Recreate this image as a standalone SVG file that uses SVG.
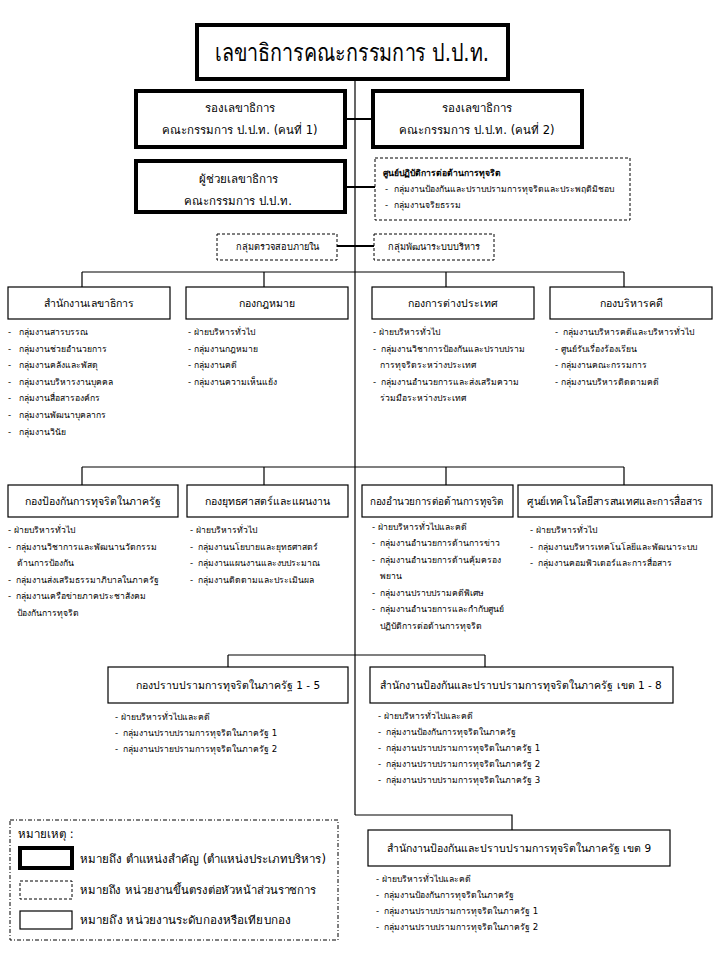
<svg xmlns="http://www.w3.org/2000/svg" width="720" height="960" viewBox="0 0 720 960">
<style>
text{font-family:"DejaVu Sans","Liberation Sans","Noto Sans",sans-serif;fill:#000}
.box{fill:#fff;stroke:#000;stroke-width:1.2}
.thick{fill:#fff;stroke:#000;stroke-width:4}
.dash{fill:#fff;stroke:#000;stroke-width:1;stroke-dasharray:3,2}
.ln{stroke:#000;stroke-width:1.2;fill:none}
.ln2{stroke:#000;stroke-width:2;fill:none}
.t{font-size:10.5px;text-anchor:middle}
.tb{font-size:11.5px;text-anchor:middle}
.i{font-size:8.6px}
.s{font-size:9.2px;text-anchor:middle}
.title{font-size:24px;text-anchor:middle}
.lg{font-size:11.5px}
</style>
<rect width="720" height="960" fill="#fff"/>
<g id="connectors">
<path class="ln" d="M355 80V815"/>
<path class="ln2" d="M345 119H372M345 187H375M337 246H374"/>
<path class="ln" d="M82 272H624M82 272V287M264 272V287M446 272V287M624 272V287"/>
<path class="ln" d="M82 467H624M82 467V485M264 467V485M446 467V485M624 467V485"/>
<path class="ln" d="M228 655H485M228 655V667M485 655V667"/>
<path class="ln" d="M355 815H512V830"/>
</g>
<g id="secgen">
<rect class="thick" x="197" y="25" width="311" height="54"/>
<text class="title" x="352" y="61" textLength="274" lengthAdjust="spacingAndGlyphs">เลขาธิการคณะกรรมการ ป.ป.ท.</text>
</g>
<g id="deputy1">
<rect class="thick" x="136" y="91" width="209" height="56"/>
<text class="tb" x="240" y="112">รองเลขาธิการ</text>
<text class="tb" x="240" y="134">คณะกรรมการ ป.ป.ท. (คนที่ 1)</text>
</g>
<g id="deputy2">
<rect class="thick" x="373" y="91" width="209" height="56"/>
<text class="tb" x="477" y="112">รองเลขาธิการ</text>
<text class="tb" x="477" y="134">คณะกรรมการ ป.ป.ท. (คนที่ 2)</text>
</g>
<g id="assistant">
<rect class="thick" x="136" y="161" width="209" height="51"/>
<text class="tb" x="238" y="183">ผู้ช่วยเลขาธิการ</text>
<text class="tb" x="238" y="205">คณะกรรมการ ป.ป.ท.</text>
</g>
<g id="anticorruption-center">
<rect class="dash" x="375" y="158" width="255" height="62"/>
<text class="i" x="383" y="176" font-weight="bold">ศูนย์ปฏิบัติการต่อต้านการทุจริต</text>
<text class="i" x="385" y="192">-<tspan dx="6">กลุ่มงานป้องกันและปราบปรามการทุจริตและประพฤติมิชอบ</tspan></text>
<text class="i" x="385" y="208">-<tspan dx="6">กลุ่มงานจริยธรรม</tspan></text>
</g>
<g id="internal-audit">
<rect class="dash" x="217" y="234" width="120" height="26"/>
<text class="s" x="277" y="250">กลุ่มตรวจสอบภายใน</text>
</g>
<g id="admin-dev">
<rect class="dash" x="374" y="234" width="120" height="26"/>
<text class="s" x="434" y="250">กลุ่มพัฒนาระบบบริหาร</text>
</g>
<g id="office-secgen">
<rect class="box" x="8" y="287" width="162" height="32"/>
<text class="t" x="89" y="307">สำนักงานเลขาธิการ</text>
<text class="i" x="8" y="335">-<tspan dx="8">กลุ่มงานสารบรรณ</tspan></text>
<text class="i" x="8" y="352">-<tspan dx="8">กลุ่มงานช่วยอำนวยการ</tspan></text>
<text class="i" x="8" y="368">-<tspan dx="8">กลุ่มงานคลังและพัสดุ</tspan></text>
<text class="i" x="8" y="385">-<tspan dx="8">กลุ่มงานบริหารงานบุคคล</tspan></text>
<text class="i" x="8" y="401">-<tspan dx="8">กลุ่มงานสื่อสารองค์กร</tspan></text>
<text class="i" x="8" y="418">-<tspan dx="8">กลุ่มงานพัฒนาบุคลากร</tspan></text>
<text class="i" x="8" y="435">-<tspan dx="8">กลุ่มงานวินัย</tspan></text>
</g>
<g id="legal">
<rect class="box" x="186" y="287" width="162" height="32"/>
<text class="t" x="267" y="307">กองกฎหมาย</text>
<text class="i" x="188" y="335">- ฝ่ายบริหารทั่วไป</text>
<text class="i" x="188" y="352">- กลุ่มงานกฎหมาย</text>
<text class="i" x="188" y="368">- กลุ่มงานคดี</text>
<text class="i" x="188" y="385">- กลุ่มงานความเห็นแย้ง</text>
</g>
<g id="foreign">
<rect class="box" x="372" y="287" width="162" height="32"/>
<text class="t" x="453" y="307">กองการต่างประเทศ</text>
<text class="i" x="373" y="335">- ฝ่ายบริหารทั่วไป</text>
<text class="i" x="373" y="352">-<tspan dx="5">กลุ่มงานวิชาการป้องกันและปราบปราม</tspan></text>
<text class="i" x="380" y="368">การทุจริตระหว่างประเทศ</text>
<text class="i" x="373" y="385">-<tspan dx="5">กลุ่มงานอำนวยการและส่งเสริมความ</tspan></text>
<text class="i" x="380" y="401">ร่วมมือระหว่างประเทศ</text>
</g>
<g id="case-admin">
<rect class="box" x="550" y="287" width="162" height="32"/>
<text class="t" x="631" y="307">กองบริหารคดี</text>
<text class="i" x="555" y="335">-<tspan dx="5">กลุ่มงานบริหารคดีและบริหารทั่วไป</tspan></text>
<text class="i" x="555" y="352">- ศูนย์รับเรื่องร้องเรียน</text>
<text class="i" x="555" y="368">- กลุ่มงานคณะกรรมการ</text>
<text class="i" x="555" y="385">- กลุ่มงานบริหารติดตามคดี</text>
</g>
<g id="prevention">
<rect class="box" x="8" y="485" width="170" height="32"/>
<text class="t" x="93" y="505">กองป้องกันการทุจริตในภาครัฐ</text>
<text class="i" x="8" y="533">- ฝ่ายบริหารทั่วไป</text>
<text class="i" x="8" y="550">-<tspan dx="5">กลุ่มงานวิชาการและพัฒนานวัตกรรม</tspan></text>
<text class="i" x="17" y="566">ด้านการป้องกัน</text>
<text class="i" x="8" y="583">-<tspan dx="5">กลุ่มงานส่งเสริมธรรมาภิบาลในภาครัฐ</tspan></text>
<text class="i" x="8" y="599">-<tspan dx="5">กลุ่มงานเครือข่ายภาคประชาสังคม</tspan></text>
<text class="i" x="17" y="616">ป้องกันการทุจริต</text>
</g>
<g id="strategy">
<rect class="box" x="187" y="485" width="161" height="32"/>
<text class="t" x="267" y="505">กองยุทธศาสตร์และแผนงาน</text>
<text class="i" x="190" y="533">- ฝ่ายบริหารทั่วไป</text>
<text class="i" x="190" y="550">-<tspan dx="5">กลุ่มงานนโยบายและยุทธศาสตร์</tspan></text>
<text class="i" x="190" y="566">-<tspan dx="5">กลุ่มงานแผนงานและงบประมาณ</tspan></text>
<text class="i" x="190" y="583">-<tspan dx="5">กลุ่มงานติดตามและประเมินผล</tspan></text>
</g>
<g id="anticorruption-directorate">
<rect class="box" x="362" y="485" width="151" height="32"/>
<text class="t" x="437" y="505" textLength="134" lengthAdjust="spacingAndGlyphs">กองอำนวยการต่อต้านการทุจริต</text>
<text class="i" x="372" y="530">- ฝ่ายบริหารทั่วไปและคดี</text>
<text class="i" x="372" y="546">-<tspan dx="5">กลุ่มงานอำนวยการด้านการข่าว</tspan></text>
<text class="i" x="372" y="563">-<tspan dx="5">กลุ่มงานอำนวยการด้านคุ้มครอง</tspan></text>
<text class="i" x="380" y="579">พยาน</text>
<text class="i" x="372" y="596">-<tspan dx="5">กลุ่มงานปราบปรามคดีพิเศษ</tspan></text>
<text class="i" x="372" y="612">-<tspan dx="5">กลุ่มงานอำนวยการและกำกับศูนย์</tspan></text>
<text class="i" x="380" y="629">ปฏิบัติการต่อต้านการทุจริต</text>
</g>
<g id="ict">
<rect class="box" x="518" y="485" width="194" height="32"/>
<text class="t" x="615" y="505" textLength="176" lengthAdjust="spacingAndGlyphs">ศูนย์เทคโนโลยีสารสนเทศและการสื่อสาร</text>
<text class="i" x="530" y="533">- ฝ่ายบริหารทั่วไป</text>
<text class="i" x="530" y="550">-<tspan dx="5">กลุ่มงานบริหารเทคโนโลยีและพัฒนาระบบ</tspan></text>
<text class="i" x="530" y="566">-<tspan dx="5">กลุ่มงานคอมพิวเตอร์และการสื่อสาร</tspan></text>
</g>
<g id="suppression">
<rect class="box" x="108" y="667" width="240" height="36"/>
<text class="t" x="228" y="689">กองปราบปรามการทุจริตในภาครัฐ  1 - 5</text>
<text class="i" x="115" y="720">- ฝ่ายบริหารทั่วไปและคดี</text>
<text class="i" x="115" y="736">-<tspan dx="5">กลุ่มงานปราบปรามการทุจริตในภาครัฐ 1</tspan></text>
<text class="i" x="115" y="752">-<tspan dx="5">กลุ่มงานปรายปรามการทุจริตในภาครัฐ 2</tspan></text>
</g>
<g id="regional-1-8">
<rect class="box" x="370" y="667" width="303" height="36"/>
<text class="t" x="521" y="689">สำนักงานป้องกันและปราบปรามการทุจริตในภาครัฐ  เขต 1 - 8</text>
<text class="i" x="378" y="719">- ฝ่ายบริหารทั่วไปและคดี</text>
<text class="i" x="378" y="735">-<tspan dx="5">กลุ่มงานป้องกันการทุจริตในภาครัฐ</tspan></text>
<text class="i" x="378" y="751">-<tspan dx="5">กลุ่มงานปราบปรามการทุจริตในภาครัฐ 1</tspan></text>
<text class="i" x="378" y="767">-<tspan dx="5">กลุ่มงานปราบปรามการทุจริตในภาครัฐ 2</tspan></text>
<text class="i" x="378" y="783">-<tspan dx="5">กลุ่มงานปราบปรามการทุจริตในภาครัฐ 3</tspan></text>
</g>
<g id="regional-9">
<rect class="box" x="368" y="830" width="302" height="36"/>
<text class="t" x="519" y="852">สำนักงานป้องกันและปราบปรามการทุจริตในภาครัฐ  เขต 9</text>
<text class="i" x="376" y="882">- ฝ่ายบริหารทั่วไปและคดี</text>
<text class="i" x="376" y="898">-<tspan dx="5">กลุ่มงานป้องกันการทุจริตในภาครัฐ</tspan></text>
<text class="i" x="376" y="914">-<tspan dx="5">กลุ่มงานปราบปรามการทุจริตในภาครัฐ 1</tspan></text>
<text class="i" x="376" y="930">-<tspan dx="5">กลุ่มงานปราบปรามการทุจริตในภาครัฐ 2</tspan></text>
</g>
<g id="legend">
<rect x="10" y="820" width="328" height="120" fill="none" stroke="#000" stroke-width="1" stroke-dasharray="4,2,1,2"/>
<text class="lg" x="18" y="838">หมายเหตุ :</text>
<rect x="20" y="848" width="52" height="20" fill="#fff" stroke="#000" stroke-width="4"/>
<text class="lg" x="80" y="863" textLength="246" lengthAdjust="spacingAndGlyphs">หมายถึง ตำแหน่งสำคัญ (ตำแหน่งประเภทบริหาร)</text>
<rect class="dash" x="20" y="881" width="52" height="18"/>
<text class="lg" x="80" y="894" textLength="236" lengthAdjust="spacingAndGlyphs">หมายถึง หน่วยงานขึ้นตรงต่อหัวหน้าส่วนราชการ</text>
<rect class="box" x="20" y="911" width="52" height="18"/>
<text class="lg" x="80" y="924" textLength="211" lengthAdjust="spacingAndGlyphs">หมายถึง หน่วยงานระดับกองหรือเทียบกอง</text>
</g>
</svg>
